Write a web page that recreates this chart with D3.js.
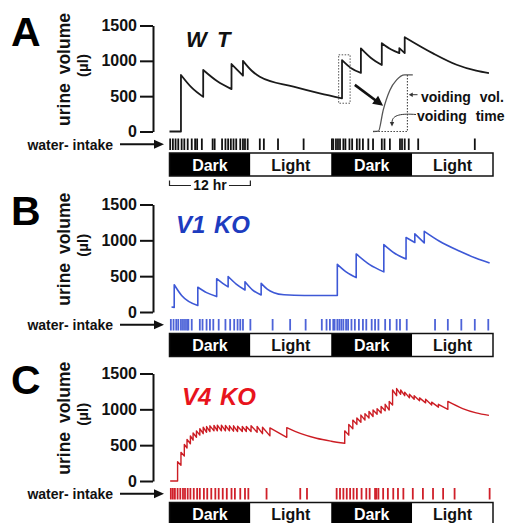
<!DOCTYPE html>
<html>
<head>
<meta charset="utf-8">
<script src="https://cdn.jsdelivr.net/npm/d3@7"></script>
<style>
  body { margin: 0; background: #fff; }
  svg { display: block; font-family: "Liberation Sans", Arial, sans-serif; }
</style>
</head>
<body>
<svg id="chart" width="507" height="523"></svg>
<script>
// ---- data (hours, µl) ----
const yTicks = [0, 500, 1000, 1500];
const periods = ["Dark", "Light", "Dark", "Light"];
const periodHours = 12;

// traces: each segment is one voiding-free decay, jumps happen between segments
const wtTrace = [
  [[0, 0], [1.7, 0]],
  [[1.7, 800], [3.3, 620], [5.0, 490]],
  [[5.0, 870], [7.1, 710], [9.2, 600]],
  [[9.2, 955], [10.9, 790]],
  [[10.9, 1000], [12.2, 860], [13.4, 775], [18.4, 635], [22.3, 540], [25.6, 470]],
  [[25.6, 1010], [26.9, 900], [28.4, 830]],
  [[28.4, 1176], [29.9, 1040], [31.5, 940]],
  [[31.5, 1250], [32.9, 1160], [34.1, 1110]],
  [[34.1, 1180], [34.9, 1110]],
  [[34.9, 1335], [39.1, 1106], [42.6, 945], [45.5, 860], [47.4, 825]]
];

const v1Trace = [
  [[0.3, 70], [0.7, 65]],
  [[0.7, 380], [1.8, 230], [4.2, 90]],
  [[4.2, 345], [5.5, 270], [7.0, 215]],
  [[7.0, 465], [7.9, 400], [8.7, 350]],
  [[8.7, 495], [9.9, 390], [11.2, 307]],
  [[11.2, 423], [12.3, 310], [13.6, 237]],
  [[13.6, 400], [14.5, 320], [15.5, 270], [17.0, 240], [20.0, 230], [24.9, 230]],
  [[24.9, 665], [26.2, 560], [27.7, 480]],
  [[27.7, 810], [29.7, 660], [31.8, 560]],
  [[31.8, 940], [33.4, 820], [35.1, 740]],
  [[35.1, 1040], [36.4, 970]],
  [[36.4, 1090], [37.8, 965]],
  [[37.8, 1125], [40.0, 990], [43.0, 850], [45.5, 750], [47.5, 685]]
];

const v4Trace = [
  [[0.1, 0], [1.2, 0]],
  [[1.2, 270], [1.7, 220]],
  [[1.7, 400], [2.2, 350]],
  [[2.2, 510], [2.6, 460]],
  [[2.6, 580], [3.1, 520]],
  [[3.1, 630], [3.5, 570]],
  [[3.5, 670], [4.0, 610]],
  [[4.0, 700], [4.5, 640]],
  [[4.5, 730], [5.0, 660]],
  [[5.0, 750], [5.5, 680]],
  [[5.5, 760], [6.0, 690]],
  [[6.0, 770], [6.6, 700]],
  [[6.6, 775], [7.1, 700]],
  [[7.1, 780], [7.7, 700]],
  [[7.7, 780], [8.3, 700]],
  [[8.3, 775], [8.9, 700]],
  [[8.9, 770], [9.5, 695]],
  [[9.5, 770], [10.1, 690]],
  [[10.1, 765], [10.8, 690]],
  [[10.8, 760], [11.4, 690]],
  [[11.4, 760], [12.1, 690]],
  [[12.1, 770], [13.0, 680]],
  [[13.0, 760], [13.8, 660]],
  [[13.8, 750], [14.9, 630]],
  [[14.9, 740], [17.4, 610]],
  [[17.4, 745], [19.5, 660], [21.8, 596], [24.0, 555], [26.0, 526]],
  [[26.0, 700], [26.6, 640]],
  [[26.6, 790], [27.2, 730]],
  [[27.2, 850], [27.8, 790]],
  [[27.8, 880], [28.4, 820]],
  [[28.4, 920], [29.0, 850]],
  [[29.0, 940], [29.6, 880]],
  [[29.6, 970], [30.2, 900]],
  [[30.2, 990], [30.8, 930]],
  [[30.8, 1010], [31.4, 950]],
  [[31.4, 1040], [32.0, 980]],
  [[32.0, 1070], [32.6, 990]],
  [[32.6, 1110], [33.1, 1060]],
  [[33.1, 1270], [33.7, 1190]],
  [[33.7, 1290], [34.3, 1210]],
  [[34.3, 1270], [34.9, 1190]],
  [[34.9, 1240], [35.6, 1160]],
  [[35.6, 1210], [36.3, 1140]],
  [[36.3, 1190], [37.1, 1120]],
  [[37.1, 1160], [38.0, 1090]],
  [[38.0, 1140], [38.9, 1060]],
  [[38.9, 1100], [39.9, 1030]],
  [[39.9, 1070], [41.3, 1000]],
  [[41.3, 1110], [43.5, 1010], [45.5, 950], [47.4, 915]]
];

// water intake events (hours)
const wtIntake = [0.1, 0.5, 0.9, 1.3, 1.8, 2.2, 2.7, 3.3, 3.8, 4.1, 4.8, 6.4, 6.7, 7.8, 8.3, 8.7,
  9.1, 9.5, 9.9, 10.5, 10.9, 11.2, 11.6, 13.4, 14.0, 16.1, 19.9,
  24.1, 24.3, 24.7, 25.0, 25.3, 25.8, 26.1, 26.7, 27.1, 27.8, 28.2, 28.7, 29.5, 30.2, 31.5,
  31.9, 32.7, 34.2, 34.5, 34.9, 35.5, 36.9, 45.3];
const v1Intake = [0.2, 0.6, 1.0, 1.3, 1.7, 2.0, 2.3, 2.6, 2.8, 3.3, 4.5, 4.9, 5.5, 6.0, 6.5,
  7.3, 8.3, 9.0, 9.6, 10.1, 10.5, 10.9, 12.0, 15.3, 17.9, 20.2, 22.6, 23.3,
  23.8, 24.3, 24.5, 24.9, 25.2, 25.5, 25.8, 26.2, 26.5, 27.0, 27.5, 28.1, 28.7, 29.2, 30.0,
  30.5, 31.0, 32.0, 32.7, 33.7, 34.2, 35.2, 39.4, 41.3, 43.3, 45.3, 47.3];
const v4Intake = [0.2, 0.5, 0.8, 1.2, 1.6, 2.0, 2.3, 2.7, 3.1, 3.6, 4.1, 4.5, 5.1, 5.6, 6.2,
  6.8, 7.3, 7.9, 8.5, 9.2, 9.7, 10.5, 11.2, 11.7, 14.4, 19.4, 20.4,
  24.8, 25.3, 25.8, 26.3, 26.8, 27.3, 27.8, 28.5, 29.2, 29.7, 30.5, 30.7, 31.0, 31.7, 32.4,
  33.2, 33.9, 34.7, 36.1, 37.6, 39.1, 40.6, 42.3, 47.5];

// inset sketch of a single void (hours, µl), panel A
const insetCurve = [[30.2, 0], [31.0, 5], [31.7, 300], [32.7, 585], [33.7, 730], [34.9, 800], [36.1, 800]];

const panels = [
  { letter: "A", title: "W T", titleColor: "#111", lineColor: "#1a1a1a", lineWidth: 1.8,
    tickColor: "#111", trace: wtTrace, intake: wtIntake, top: 25.5, zero: 131.5, titleX: 186, titleY: 47, titleSize: 22 },
  { letter: "B", title: "V1 KO", titleColor: "#1d3cbf", lineColor: "#3d58d6", lineWidth: 1.6,
    tickColor: "#4d63d8", trace: v1Trace, intake: v1Intake, top: 204.5, zero: 312, titleX: 176, titleY: 233, titleSize: 24 },
  { letter: "C", title: "V4 KO", titleColor: "#e8141c", lineColor: "#cc1d24", lineWidth: 1.4,
    tickColor: "#d0202a", trace: v4Trace, intake: v4Intake, top: 373.5, zero: 481, titleX: 182, titleY: 405, titleSize: 24 }
];

const svg = d3.select("#chart");
const x = d3.scaleLinear().domain([0, periods.length * periodHours]).range([169.5, 493]);

function tracePath(segs, y) {
  const gen = d3.line().x(d => x(d[0])).y(d => y(d[1])).curve(d3.curveMonotoneX);
  return segs.map((s, i) => {
    const p = gen(s);
    return i ? "L" + p.slice(1) : p;
  }).join("");
}

function arrowHead(g, tipX, tipY, angle, len, half, color) {
  // angle in radians, direction the arrow points to
  const bx = tipX - len * Math.cos(angle), by = tipY - len * Math.sin(angle);
  const nx = -Math.sin(angle) * half, ny = Math.cos(angle) * half;
  g.append("path")
    .attr("d", `M${tipX},${tipY}L${bx + nx},${by + ny}L${bx - nx},${by - ny}Z`)
    .attr("fill", color);
}

panels.forEach(p => {
  const g = svg.append("g");
  const y = d3.scaleLinear().domain([0, 1500]).range([p.zero, p.top]);

  // panel letter
  g.append("text").attr("x", 11).attr("y", p.top + 20)
    .style("font-size", "41px").style("font-weight", "bold").attr("fill", "#000")
    .text(p.letter);

  // y axis
  const ax = g.append("g").attr("transform", "translate(153,0)")
    .call(d3.axisLeft(y).tickValues(yTicks).tickFormat(d3.format("d"))
      .tickSize(13).tickSizeOuter(0).tickPadding(3));
  ax.select(".domain").attr("stroke", "#111").attr("stroke-width", 2);
  ax.selectAll(".tick line").attr("stroke", "#111").attr("stroke-width", 2);
  ax.selectAll(".tick text").attr("fill", "#111")
    .style("font-size", "16px").style("font-weight", "bold").style("font-family", "Liberation Sans, Arial, sans-serif");

  const cy = (p.top + p.zero) / 2 - 9;
  g.append("text").attr("transform", `translate(70,${cy}) rotate(-90)`)
    .attr("text-anchor", "middle").style("font-size", "17.5px").style("font-weight", "bold")
    .style("word-spacing", "4px").attr("fill", "#111").text("urine volume");
  g.append("text").attr("transform", `translate(88,${cy - 4}) rotate(-90)`)
    .attr("text-anchor", "middle").style("font-size", "15px").style("font-weight", "bold")
    .attr("fill", "#111").text("(µl)");

  // title
  g.append("text").attr("x", p.titleX).attr("y", p.titleY)
    .style("font-size", p.titleSize + "px").style("font-weight", "bold").style("font-style", "italic")
    .style("word-spacing", p.letter === "A" ? "4px" : "2px")
    .attr("fill", p.titleColor).text(p.title);

  // trace
  g.append("path").attr("d", tracePath(p.trace, y))
    .attr("fill", "none").attr("stroke", p.lineColor).attr("stroke-width", p.lineWidth)
    .attr("stroke-linejoin", "round");

  // water intake ticks
  const tTop = p.zero + 7, tBot = p.zero + 18.5;
  g.append("g").selectAll("line").data(p.intake).join("line")
    .attr("x1", d => x(d)).attr("x2", d => x(d))
    .attr("y1", tTop).attr("y2", tBot)
    .attr("stroke", p.tickColor).attr("stroke-width", 1.8);

  const ly = (tTop + tBot) / 2;
  g.append("text").attr("x", 113).attr("y", ly + 5.5).attr("text-anchor", "end")
    .style("font-size", "14px").style("font-weight", "bold").attr("fill", "#111")
    .text("water- intake");
  g.append("line").attr("x1", 120).attr("x2", 156).attr("y1", ly).attr("y2", ly)
    .attr("stroke", "#111").attr("stroke-width", 2);
  arrowHead(g, 164, ly, 0, 10, 4.5, "#111");

  // light / dark bar
  const barY = p.zero + 21.5, barH = 23;
  periods.forEach((name, i) => {
    const x0 = x(i * periodHours), x1 = x((i + 1) * periodHours);
    g.append("rect").attr("x", x0).attr("y", barY).attr("width", x1 - x0).attr("height", barH)
      .attr("fill", name === "Dark" ? "#000" : "#fff");
    g.append("text").attr("x", (x0 + x1) / 2).attr("y", barY + 17.5).attr("text-anchor", "middle")
      .style("font-size", "16px").style("font-weight", "bold")
      .attr("fill", name === "Dark" ? "#fff" : "#111").text(name);
  });
  g.append("rect").attr("x", x(0)).attr("y", barY)
    .attr("width", x(periods.length * periodHours) - x(0)).attr("height", barH)
    .attr("fill", "none").attr("stroke", "#111").attr("stroke-width", 1.5);

  if (p.letter === "A") {
    // 12 hr bracket
    const by = barY + barH + 9.5;
    const bx0 = x(0), bx1 = x(periodHours), bm = (bx0 + bx1) / 2;
    g.append("path")
      .attr("d", `M${bx0},${by - 5}V${by}H${bm - 19}M${bm + 19},${by}H${bx1}V${by - 5}`)
      .attr("fill", "none").attr("stroke", "#222").attr("stroke-width", 1.2);
    g.append("text").attr("x", bm).attr("y", by + 4).attr("text-anchor", "middle")
      .style("font-size", "14px").style("font-weight", "bold").attr("fill", "#111").text("12 hr");

    // inset: zoomed void
    const dot = "1.5,1.5";
    g.append("rect").attr("x", x(25.1)).attr("y", y(1085))
      .attr("width", x(26.8) - x(25.1)).attr("height", y(400) - y(1085))
      .attr("fill", "none").attr("stroke", "#555").attr("stroke-width", 1).attr("stroke-dasharray", dot);
    g.append("line").attr("x1", x(27.5)).attr("y1", y(660)).attr("x2", x(31.0)).attr("y2", y(410))
      .attr("stroke", "#111").attr("stroke-width", 2.6);
    const ang = Math.atan2(y(370) - y(660), x(31.6) - x(27.5));
    arrowHead(g, x(31.7), y(365), ang, 10, 5, "#111");

    g.append("path").attr("d", d3.line().x(d => x(d[0])).y(d => y(d[1])).curve(d3.curveMonotoneX)(insetCurve))
      .attr("fill", "none").attr("stroke", "#555").attr("stroke-width", 1.3);
    g.append("path").attr("d", `M${x(35.3)},${y(800)}V${y(0)}H${x(30.2)}`)
      .attr("fill", "none").attr("stroke", "#444").attr("stroke-width", 1.1).attr("stroke-dasharray", dot);

    // labels
    const volY = y(450);
    g.append("line").attr("x1", x(36.8)).attr("x2", x(35.8)).attr("y1", volY - 5).attr("y2", volY - 5)
      .attr("stroke", "#333").attr("stroke-width", 1);
    arrowHead(g, x(35.5), volY - 5, Math.PI, 4, 2.2, "#333");
    g.append("text").attr("x", 421).attr("y", volY + 2)
      .style("font-size", "14px").style("font-weight", "bold").style("word-spacing", "5px")
      .attr("fill", "#111").text("voiding vol.");
    const timeY = y(170);
    g.append("path").attr("d", `M416,${timeY - 5}C402,${timeY - 6} 392,${timeY - 5} 392,${timeY + 3}`)
      .attr("fill", "none").attr("stroke", "#333").attr("stroke-width", 1);
    arrowHead(g, 392, timeY + 7, Math.PI / 2, 4.5, 2.2, "#333");
    g.append("text").attr("x", 417).attr("y", timeY + 2)
      .style("font-size", "14px").style("font-weight", "bold").style("word-spacing", "5px")
      .attr("fill", "#111").text("voiding time");
  }
});
</script>
</body>
</html>
